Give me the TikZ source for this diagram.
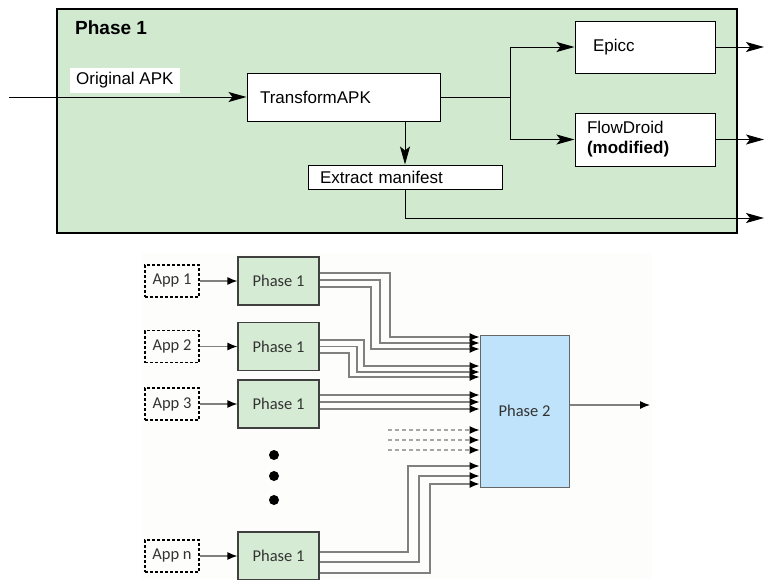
\documentclass[tikz,border=0pt]{standalone}
\usepackage{fontspec}
\setmainfont{Liberation Sans}
\newfontfamily\calibri{Carlito}
\usetikzlibrary{arrows.meta}

\definecolor{topgreen}{RGB}{208,233,207}
\definecolor{phgreen}{RGB}{213,235,211}
\definecolor{phblue}{RGB}{190,227,250}
\definecolor{shot}{RGB}{253,253,252}

\tikzset{
  topbox/.style={draw, fill=white, line width=1pt, inner ysep=0pt, align=left,
    font=\fontsize{17}{20}\selectfont},
  arr/.style={line width=1pt, -{Stealth[length=18pt,width=10pt,inset=4pt]}},
  appbox/.style={draw, line width=1.5pt, dash pattern=on 3pt off 2pt,
    minimum width=54pt, minimum height=32pt, inner sep=0pt, text=black!80,
    font=\calibri\fontsize{16.5}{18}\selectfont},
  phbox/.style={draw=black!75, line width=1.2pt, fill=phgreen,
    minimum width=81pt, minimum height=48pt, inner sep=0pt, text=black!80,
    font=\calibri\fontsize{16.5}{18}\selectfont},
  wire/.style={draw=black!50, line width=1.2pt, -{Latex[length=10pt,width=8pt,color=black]}},
}

\begin{document}
\begin{tikzpicture}[x=1pt,y=1pt,yscale=-1,xscale=1]
\useasboundingbox (0,0) rectangle (765,579);

% Phase 1 detail
\node [draw, line width=2pt, fill=topgreen, minimum width=680pt, minimum height=224pt] (outer) at (397,121) {};
\node [anchor=west, inner sep=0pt, font=\fontsize{19}{22}\selectfont\bfseries] (title) at (75,28) {Phase 1};
\node [anchor=west, fill=white, inner xsep=6pt, inner ysep=4.5pt, font=\fontsize{17}{20}\selectfont] (orig) at (70,80.5) {Original APK};

\node [topbox, text width=167pt, inner xsep=13pt, minimum height=48pt] (tapk) at (343.5,97) {TransformAPK};
\node [topbox, text width=104pt, inner xsep=18pt, minimum height=52pt] (epicc) at (645,47) {Epicc};
\node [topbox, text width=116pt, inner xsep=12pt, minimum height=53pt] (flow) at (645,139.5) {FlowDroid\\\textbf{(modified)}};
\node [topbox, text width=170pt, inner xsep=12pt, minimum height=24pt] (manifest) at (405,177) {Extract manifest};

\coordinate (in) at (9,97);
\coordinate (split) at (510,97);
\coordinate (outa) at (764,47);
\coordinate (outb) at (764,139.5);
\coordinate (outc) at (764,218);

\draw [arr] (in) -- (tapk);
\draw [line width=1pt] (tapk) -- (split);
\draw [arr] (split) |- (epicc);
\draw [arr] (split) |- (flow);
\draw [arr] (manifest.north |- tapk.south) -- (manifest.north);
\draw [arr] (manifest.south) |- (outc);
\draw [arr] (epicc) -- (outa);
\draw [arr] (flow) -- (outb);

% overview
\fill [shot] (142,253) rectangle (652,579);

\foreach \n/\y/\t in {a/281/1, b/346.5/2, c/404/3, n/556/n} {
  \node [appbox] (app\n) at (172,\y) {App \t};
  \node [phbox] (ph1\n) at (278.5,\y) {Phase 1};
  \draw [wire] (app\n) -- (ph1\n);
}
\node [draw=black!60, line width=1pt, fill=phblue, minimum width=89pt, minimum height=152pt, text=black!80,
  font=\calibri\fontsize{16.5}{18}\selectfont] (ph2) at (524.5,411) {Phase 2};

\foreach \ys/\xv/\ye in {273/390/337, 280/380/343, 287/371/349}
  \draw [wire] (ph1a.east |- 0,\ys) -| (\xv,\ye) -- (ph2.west |- 0,\ye);
\foreach \ys/\xv/\ye in {340/364/366, 346.5/357/372, 353/349/377}
  \draw [wire] (ph1b.east |- 0,\ys) -| (\xv,\ye) -- (ph2.west |- 0,\ye);
\foreach \y in {395,402,409}
  \draw [wire] (ph1c.east |- 0,\y) -- (ph2.west |- 0,\y);
\foreach \y in {430,440,450}
  \draw [wire, draw=black!35, dash pattern=on 4pt off 3pt] (388,\y) -- (ph2.west |- 0,\y);
\foreach \ys/\xv/\ye in {552/408/466, 562/419/476, 573/430/484}
  \draw [wire] (ph1n.east |- 0,\ys) -| (\xv,\ye) -- (ph2.west |- 0,\ye);

\coordinate (result) at (650,405);
\draw [wire] (ph2.east |- result) -- (result);

% more apps
\foreach \y in {455,476,500}
  \fill (274,\y) circle (5);
\end{tikzpicture}
\end{document}
